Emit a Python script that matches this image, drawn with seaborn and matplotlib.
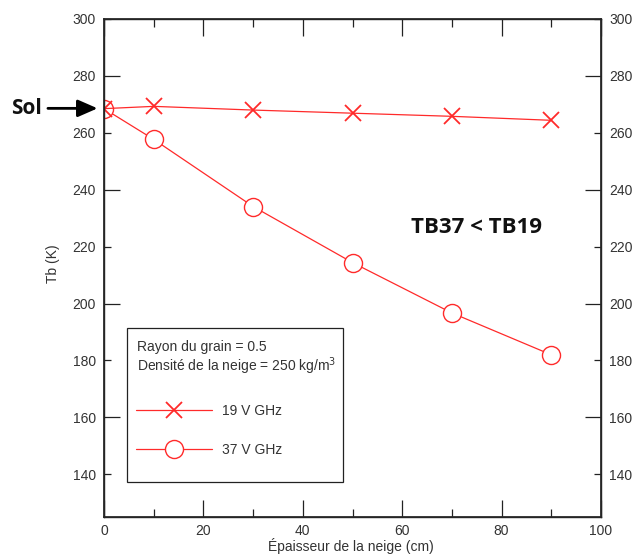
import matplotlib
matplotlib.use("Agg")
import matplotlib.pyplot as plt
from matplotlib.ticker import MultipleLocator, FixedLocator
from matplotlib.lines import Line2D
from matplotlib.patches import Rectangle
import seaborn as sns
import pandas as pd

# Snow depth (cm) and brightness temperatures (K)
epaisseur = [0, 10, 30, 50, 70, 90]
tb_19v = [268.5, 269.3, 268.0, 266.9, 265.8, 264.4]
tb_37v = [268.5, 257.7, 234.1, 214.4, 196.7, 182.0]
serie_19 = "19 V GHz"
serie_37 = "37 V GHz"
yticks = [140, 160, 180, 200, 220, 240, 260, 280, 300]

df = pd.DataFrame({
    "x": epaisseur * 2,
    "tb": tb_19v + tb_37v,
    "serie": [serie_19] * len(epaisseur) + [serie_37] * len(epaisseur),
})

sns.set_theme(style="ticks")
plt.rcParams["font.family"] = ["Liberation Sans", "DejaVu Sans"]

rouge = "#ff2a2a"
texte = "#333333"
trait = "#222222"
fig = plt.figure(figsize=(6.33, 5.54), dpi=100)
ax = fig.add_axes([104 / 633, 37 / 554, 497 / 633, 498 / 554])

sns.lineplot(data=df[df.serie == serie_37], x="x", y="tb", ax=ax, color=rouge,
             lw=0.9, marker="o", markersize=13, markerfacecolor="white",
             markeredgecolor=rouge, markeredgewidth=1.0, legend=False)
sns.lineplot(data=df[df.serie == serie_19], x="x", y="tb", ax=ax, color=rouge,
             lw=0.9, marker="x", markersize=12, markeredgecolor=rouge,
             markeredgewidth=1.3, legend=False)

ax.set_xlim(0, 100)
ax.set_ylim(125, 300)
ax.xaxis.set_major_locator(MultipleLocator(20))
ax.xaxis.set_minor_locator(MultipleLocator(10))
ax.yaxis.set_major_locator(FixedLocator(yticks))

ax.tick_params(axis="both", which="both", direction="in", colors=trait,
               labelcolor=texte, labelsize=10, width=0.9)
ax.tick_params(axis="x", which="major", length=12, top=True, pad=5)
ax.tick_params(axis="x", which="minor", length=5.5, top=True)
ax.tick_params(axis="y", which="major", length=5, pad=6)
for t, v in zip(ax.yaxis.get_major_ticks(), yticks):
    if v in (160, 200, 240, 280):
        t.tick1line.set_markersize(11.5)
for s in ax.spines.values():
    s.set_visible(True)
    s.set_color(trait)
    s.set_linewidth(1.0)

ax2 = ax.twinx()
ax2.set_ylim(ax.get_ylim())
ax2.yaxis.set_major_locator(FixedLocator(yticks))
ax2.tick_params(axis="y", which="major", direction="in", length=5, pad=6,
                colors=trait, labelcolor=texte, labelsize=10, width=0.9)
for t, v in zip(ax2.yaxis.get_major_ticks(), yticks):
    if v in (160, 200, 240, 280):
        t.tick2line.set_markersize(11.5)

ax.set_xlabel("Épaisseur de la neige (cm)", fontsize=10, color=texte, va="baseline")
ax.xaxis.set_label_coords(0.497, -(551 - 517) / 498)
ax.set_ylabel("Tb (K)", fontsize=10, color=texte)
ax.yaxis.set_label_coords(-0.089, 0.508)

# Legend panel: framed box with the snow parameters and the two series
ax.add_patch(Rectangle((23 / 497, 35 / 498), 216 / 497, 154 / 498,
                       transform=ax.transAxes, facecolor="white",
                       edgecolor=trait, lw=0.9, zorder=5))
for ligne, ypix in [("Rayon du grain = 0.5", 345),
                    ("Densité de la neige = 250 kg/m$^3$", 363)]:
    ax.text(33 / 497, (517 - ypix) / 498, ligne, transform=ax.transAxes,
            fontsize=10, color=texte, va="center_baseline", ha="left", zorder=6)
handles = [
    Line2D([], [], color=rouge, lw=0.9, marker="x", markersize=12,
           markeredgecolor=rouge, markeredgewidth=1.3),
    Line2D([], [], color=rouge, lw=0.9, marker="o", markersize=13,
           markerfacecolor="white", markeredgecolor=rouge),
]
leg = ax.legend(handles, [serie_19, serie_37], loc="upper left",
                bbox_to_anchor=(32 / 497, (517 - 404) / 498),
                borderaxespad=0, borderpad=0, frameon=False,
                fontsize=10, handlelength=5.5, handletextpad=0.7,
                labelspacing=1.8)
leg.set_zorder(7)
for t in leg.get_texts():
    t.set_color(texte)

ax.text(75, 226.6, "TB37 < TB19", fontsize=16, fontweight="bold",
        family="Open Sans", color="#111111", ha="center", va="center")
ax.annotate("Sol", xy=(-1.3, 268.6), xytext=(-12.5, 268.6),
            xycoords="data", textcoords="data", annotation_clip=False,
            fontsize=15, fontweight="bold", family="Open Sans", color="#111111",
            ha="right", va="center",
            arrowprops=dict(arrowstyle="-|>,head_length=0.8,head_width=0.35",
                            color="black", lw=2, shrinkA=2, shrinkB=0))

fig.savefig("out.png", dpi=100)
